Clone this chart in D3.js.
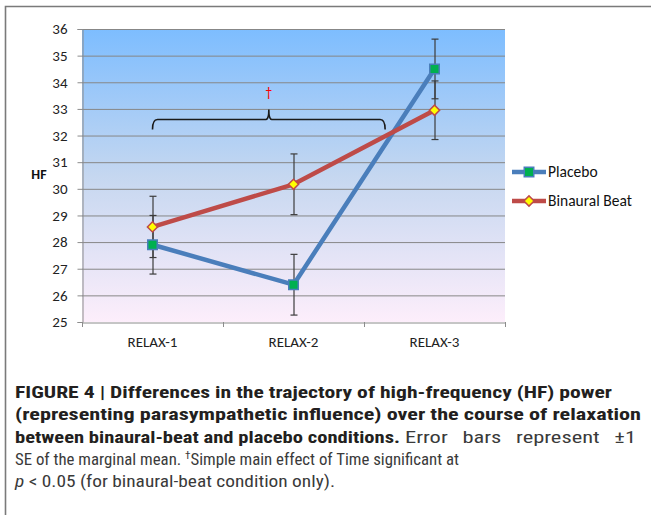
<!DOCTYPE html>
<html>
<head>
<meta charset="utf-8">
<script src="https://d3js.org/d3.v7.min.js"></script>
<style>
  html, body { margin: 0; padding: 0; background: #fff; }
  svg { display: block; }
</style>
</head>
<body>
<div id="chart"></div>
<script>
// Data ----------------------------------------------------------------------->
const phases = ['RELAX-1', 'RELAX-2', 'RELAX-3'];
const placebo_mean = [27.9, 26.4, 34.5];
const placebo_se = [1.1, 1.14, 1.12];
const binaural_mean = [28.57, 30.17, 32.95];
const binaural_se = [1.15, 1.14, 1.1];
const y_ticks = [25, 26, 27, 28, 29, 30, 31, 32, 33, 34, 35, 36];
const series_names = ['Placebo', 'Binaural Beat'];
// bracket spans RELAX-1 .. part way to RELAX-3, drawn at HF = 32.6
const bracket_span = [0, 1.65];
const bracket_level = 32.6;

// caption, one entry per run of text (line index, text, style)
const caption_runs = [
  [0, [{t: 'FIGURE 4 | Differences in the trajectory of high-frequency (HF) power', b: true}]],
  [1, [{t: '(representing parasympathetic influence) over the course of relaxation', b: true}]],
  [2, [{t: 'between binaural-beat and placebo conditions.', b: true}]],
  [2, [{t: 'Error bars represent \u00b11'}]],
  [3, [{t: 'SE of the marginal mean. '}, {t: '\u2020', sup: true},
       {t: 'Simple main effect of Time significant at'}]],
  [4, [{t: 'p', i: true}, {t: ' < 0.05 (for binaural-beat condition only).'}]]
];
// horizontal extent of each run, in pixels, and extra word gap (justified text)
const caption_extent = [[15, 612], [15, 641], [15, 400], [405, 636], [15, 459], [15, 335]];
const caption_word_gap = [0, 0, 0, 7, 0, 0];

// Setup ---------------------------------------------------------------------->
const width = 651, height = 515;
const svg = d3.select('#chart')
  .append('svg')
    .attr('width', width)
    .attr('height', height);

const chart_font = "Carlito, Lato, 'Open Sans', sans-serif";

// outer frame (clipped on right and bottom)
svg.append('path')
  .attr('d', 'M5.5,515 L5.5,6.5 L651,6.5')
  .attr('fill', 'none')
  .attr('stroke', '#7a7a7a')
  .attr('stroke-width', 1.6);

const plot = {left: 82, right: 505, top: 29, bottom: 322};

const x = d3.scaleBand().domain(phases).range([plot.left, plot.right]).padding(0);
const xc = d => x(d) + x.bandwidth() / 2;
const y = d3.scaleLinear().domain([25, 36]).range([plot.bottom, plot.top]);

// background gradient
const defs = svg.append('defs');
const grad = defs.append('linearGradient')
  .attr('id', 'bg')
  .attr('x1', 0).attr('y1', 0).attr('x2', 0).attr('y2', 1);
grad.append('stop').attr('offset', '0%').attr('stop-color', '#7dbdff');
grad.append('stop').attr('offset', '50%').attr('stop-color', '#c5d7f0');
grad.append('stop').attr('offset', '100%').attr('stop-color', '#fdeefb');

svg.append('rect')
  .attr('x', plot.left).attr('y', plot.top)
  .attr('width', plot.right - plot.left)
  .attr('height', plot.bottom - plot.top)
  .attr('fill', 'url(#bg)');

// gridlines
svg.append('g')
  .selectAll('line')
  .data(y_ticks.filter(d => d > 25))
  .join('line')
    .attr('x1', plot.left).attr('x2', plot.right)
    .attr('y1', d => y(d) + 0.5).attr('y2', d => y(d) + 0.5)
    .attr('stroke', '#878787')
    .attr('stroke-width', 1);

// y axis
const y_axis = svg.append('g')
  .attr('transform', `translate(${plot.left + 0.5},0)`)
  .call(d3.axisLeft(y).tickValues(y_ticks).tickSize(5).tickPadding(10));
y_axis.select('.domain').attr('stroke', '#8c8c8c');
y_axis.selectAll('.tick line').attr('stroke', '#8c8c8c');
y_axis.selectAll('.tick text')
  .style('font', `15px ${chart_font}`)
  .attr('fill', '#222');

// x axis
const x_axis = svg.append('g')
  .attr('transform', `translate(0,${plot.bottom + 0.5})`)
  .call(d3.axisBottom(x).tickSize(0).tickPadding(14));
x_axis.select('.domain').attr('stroke', '#8c8c8c');
x_axis.selectAll('.tick text')
  .style('font', `15px ${chart_font}`)
  .attr('fill', '#222');
// tick marks at category boundaries
svg.append('g')
  .selectAll('line')
  .data(phases.map(p => x(p)).concat([plot.right]))
  .join('line')
    .attr('x1', d => d + 0.5).attr('x2', d => d + 0.5)
    .attr('y1', plot.bottom).attr('y2', plot.bottom + 5)
    .attr('stroke', '#8c8c8c');

// y label
svg.append('text')
  .attr('x', 39).attr('y', 179)
  .attr('text-anchor', 'middle')
  .style('font', `bold 14px ${chart_font}`)
  .attr('fill', '#111')
  .text('HF');

// series
const series = [
  {name: series_names[0], mean: placebo_mean, se: placebo_se,
   line: '#4a7ebb', fill: '#00b050', size: 90, rot: 0},
  {name: series_names[1], mean: binaural_mean, se: binaural_se,
   line: '#be4b48', fill: '#ffff00', size: 52, rot: 45}
];
const marker = s => d3.symbol().type(d3.symbolSquare).size(s.size)();

// error bars
series.forEach(s => {
  const eb = svg.append('g')
    .attr('stroke', '#3c3c3c')
    .attr('stroke-width', 1.2);
  phases.forEach((p, i) => {
    const cx = xc(p) + 0.5;
    const lo = y(s.mean[i] - s.se[i]), hi = y(s.mean[i] + s.se[i]);
    eb.append('line').attr('x1', cx).attr('x2', cx).attr('y1', lo).attr('y2', hi);
    eb.append('line').attr('x1', cx - 3.5).attr('x2', cx + 3.5).attr('y1', lo).attr('y2', lo);
    eb.append('line').attr('x1', cx - 3.5).attr('x2', cx + 3.5).attr('y1', hi).attr('y2', hi);
  });
});

const line_gen = d3.line()
  .x((d, i) => xc(phases[i]))
  .y(d => y(d));

series.forEach(s => {
  svg.append('path')
    .datum(s.mean)
    .attr('d', line_gen)
    .attr('fill', 'none')
    .attr('stroke', s.line)
    .attr('stroke-width', 4.5)
    .attr('stroke-linejoin', 'round');
});

series.forEach(s => {
  svg.append('g')
    .selectAll('path')
    .data(s.mean)
    .join('path')
      .attr('transform', (d, i) => `translate(${xc(phases[i])},${y(d)}) rotate(${s.rot})`)
      .attr('d', marker(s))
      .attr('fill', s.fill)
      .attr('stroke', s.line)
      .attr('stroke-width', 1.5);
});

// significance bracket
const bx0 = xc(phases[0]);
const bx1 = xc(phases[0]) + bracket_span[1] * x.bandwidth();
const bmid = (bx0 + bx1) / 2;
const by = y(bracket_level);
svg.append('path')
  .attr('d', `M${bx0},${by + 10} Q${bx0},${by} ${bx0 + 5},${by}
              L${bmid - 3},${by} Q${bmid},${by} ${bmid},${by - 10}
              Q${bmid},${by} ${bmid + 3},${by}
              L${bx1 - 5},${by} Q${bx1},${by} ${bx1},${by + 10}`)
  .attr('fill', 'none')
  .attr('stroke', '#1a1a1a')
  .attr('stroke-width', 1.6);
svg.append('text')
  .attr('x', bmid).attr('y', by - 23)
  .attr('text-anchor', 'middle')
  .style('font', `14px ${chart_font}`)
  .attr('fill', '#ff0000')
  .text('\u2020');

// legend
const legend = svg.append('g');
series.forEach((s, i) => {
  const ly = 172 + i * 29;
  legend.append('line')
    .attr('x1', 512).attr('x2', 546)
    .attr('y1', ly).attr('y2', ly)
    .attr('stroke', s.line)
    .attr('stroke-width', 4.5);
  legend.append('path')
    .attr('transform', `translate(529,${ly}) rotate(${s.rot})`)
    .attr('d', marker(s))
    .attr('fill', s.fill)
    .attr('stroke', s.line)
    .attr('stroke-width', 1.5);
  legend.append('text')
    .attr('x', 548).attr('y', ly + 5)
    .style('font', `15.5px ${chart_font}`)
    .attr('fill', '#111')
    .text(s.name);
});

// caption
const caption_font = "'Liberation Sans Narrow', 'Roboto Condensed', Roboto, sans-serif";
caption_runs.forEach(([line, parts], k) => {
  const [x0, x1] = caption_extent[k];
  const t = svg.append('text')
    .attr('x', x0)
    .attr('y', 398 + line * 22.3)
    .attr('textLength', x1 - x0)
    .attr('lengthAdjust', 'spacingAndGlyphs')
    .style('font-family', caption_font)
    .style('font-size', '16.5px')
    .style('word-spacing', `${caption_word_gap[k]}px`)
    .attr('fill', '#231f20');
  parts.forEach((p, j) => {
    const ts = t.append('tspan').text(p.t);
    if (p.b) ts.attr('font-weight', 'bold');
    else ts.attr('fill', '#3a3a3a');
    if (p.i) ts.attr('font-style', 'italic');
    if (p.sup) ts.attr('font-size', '11px').attr('dy', -6);
    else if (j > 0 && parts[j - 1].sup) ts.attr('dy', 6);
  });
});
</script>
</body>
</html>
